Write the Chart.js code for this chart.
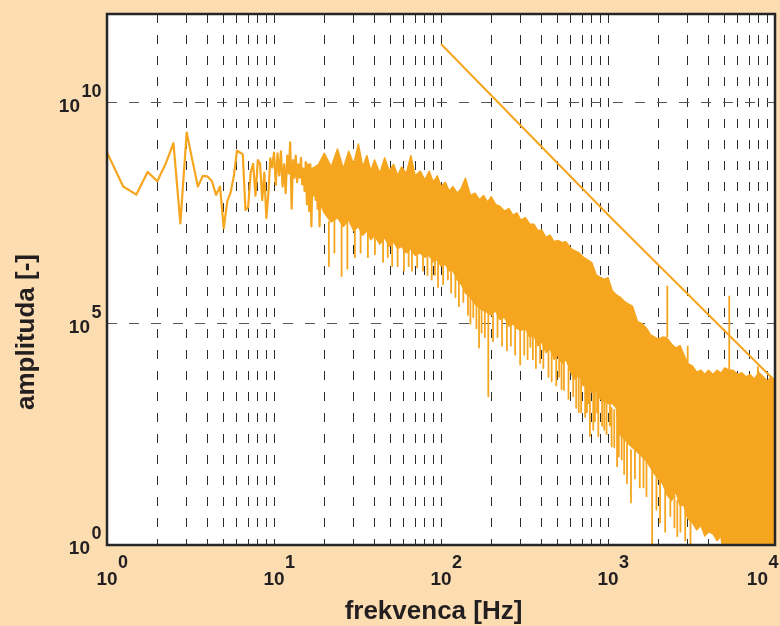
<!DOCTYPE html>
<html>
<head>
<meta charset="utf-8">
<title>Spekter</title>
<script src="https://cdn.jsdelivr.net/npm/chart.js@4/dist/chart.umd.min.js"></script>
<style>
  html, body { margin: 0; padding: 0; background: #fcddb2; }
  canvas { display: block; }
</style>
</head>
<body>
<canvas id="spectrum" width="780" height="626"></canvas>
<script>
// low frequency part of the spectrum, single visible points
const lowFreq = [1, 1.25, 1.5, 1.75, 2, 2.25, 2.5, 2.75, 3, 3.25, 3.5, 3.75, 4, 4.25, 4.5, 4.75, 5, 5.25, 5.5, 5.75,
  6, 6.25, 6.5, 6.75, 7, 7.25, 7.5, 7.75, 8, 8.25, 8.5, 8.75, 9, 9.25, 9.5, 9.75, 10,
  10.25, 10.5, 10.75, 11, 11.25, 11.5, 11.75, 12, 12.25, 12.5, 12.75, 13, 13.25, 13.5, 13.75, 14, 14.25, 14.5, 14.75,
  15, 15.25, 15.5, 15.75, 16, 16.25, 16.5, 16.75, 17, 17.25, 17.5, 17.75, 18, 18.25, 18.5, 18.75, 19, 19.25, 19.5, 19.75, 20];
const lowAmp = [7.4e8, 1.26e8, 8.3e7, 2.7e8, 1.66e8, 4.2e8, 1.2e9, 1.86e7, 2.1e9, 4.8e8, 1.26e8, 2.2e8, 2.14e8, 1.66e8, 8.1e7, 1.26e8, 1.45e7, 5.8e7, 9.3e7, 2.2e8,
  8.1e8, 7.4e8, 6.8e8, 3.7e7, 4.3e7, 2.6e8, 4.1e8, 7.8e7, 5.0e8, 4.2e8, 6.2e7, 2.6e8, 2.45e7, 8.5e7, 5.5e8, 3.4e8, 7.4e8,
  1.38e8, 7.1e8, 2.24e8, 7.9e8, 1.26e8, 4.0e8, 8.9e7, 6.3e8, 2.5e8, 1.26e9, 4.0e7, 5.0e8, 2.0e8, 6.3e8, 1.58e8, 4.0e8, 2.0e8, 5.6e8, 1.41e8,
  3.2e8, 1.0e8, 4.5e8, 5.0e7, 4.0e8, 3.5e7, 4.0e8, 1.58e7, 3.2e8, 7.9e7, 2.8e8, 6.3e7, 3.2e8, 4.0e7, 2.0e8, 1.58e7, 2.5e8, 7.9e7, 2.0e8, 5.0e7, 5.6e8];

// dense part: upper and lower edge of the band
const bandFreq = [17, 18.5, 20, 22, 24, 26, 28, 30, 32, 34, 36, 38, 40, 43, 46, 49, 52, 55, 58,
  62, 66, 70, 75, 80, 85, 90, 95, 100, 106, 112, 118, 125, 132, 140, 150, 160, 170, 180, 190, 200,
  212, 225, 240, 255, 270, 285, 300, 320, 340, 360, 380, 400, 425, 450, 475, 500, 530, 560, 600,
  630, 670, 710, 750, 800, 850, 900, 950, 1000, 1060, 1120, 1180, 1250, 1320, 1400, 1500, 1600, 1700, 1800, 1900, 2000,
  2120, 2250, 2400, 2550, 2700, 2850, 3000, 3200, 3400, 3600, 3800, 4000, 4250, 4500, 4750, 5000, 5300, 5600, 6000,
  6300, 6700, 7100, 7500, 8000, 8500, 9000, 9500, 10000];
const bandTop = [3.2e8, 4.0e8, 7.1e8, 3.5e8, 8.9e8, 3.2e8, 7.9e8, 4.0e8, 1.15e9, 3.5e8, 6.3e8, 2.8e8, 5.0e8, 2.5e8, 5.6e8, 2.8e8, 4.0e8, 2.2e8, 3.5e8,
  2.5e8, 6.3e8, 2.2e8, 2.8e8, 1.78e8, 2.8e8, 1.58e8, 2.2e8, 1.26e8, 1.58e8, 1.0e8, 1.26e8, 8.9e7, 1.12e8, 1.95e8, 7.9e7, 8.9e7, 6.3e7, 7.9e7, 5.6e7, 7.4e7,
  5.0e7, 4.5e7, 3.5e7, 4.0e7, 2.8e7, 3.2e7, 2.2e7, 2.5e7, 1.78e7, 1.78e7, 1.26e7, 1.32e7, 8.9e6, 1.0e7, 7.1e6, 7.6e6, 6.9e6, 7.1e6, 5.0e6,
  4.5e6, 4.0e6, 3.2e6, 2.8e6, 2.4e6, 1.26e6, 1.12e6, 1.0e6, 1.1e6, 5.6e5, 4.5e5, 4.0e5, 3.2e5, 2.8e5, 2.5e5, 1.12e5, 1.0e5, 7.9e4, 5.6e4, 5.0e4, 4.5e4,
  5.0e4, 4.8e4, 3.5e4, 2.8e4, 3.2e4, 2.0e4, 1.26e4, 1.12e4, 7.9e3, 8.9e3, 7.1e3, 8.9e3, 7.1e3, 8.9e3, 7.6e3, 1.0e4, 8.9e3, 8.9e3, 7.1e3,
  7.9e3, 6.3e3, 7.1e3, 5.6e3, 7.9e3, 6.3e3, 5.0e3, 6.3e3, 5.0e3];
const bandBottom = [1.58e8, 6.3e7, 3.2e7, 2.0e7, 2.5e7, 1.58e7, 2.24e7, 1.26e7, 1.58e7, 1.0e7, 1.26e7, 7.9e6, 1.0e7, 6.3e6, 8.9e6, 5.6e6, 7.1e6, 5.0e6, 5.6e6,
  4.0e6, 5.0e6, 3.5e6, 4.0e6, 3.2e6, 3.5e6, 2.5e6, 2.8e6, 2.0e6, 2.24e6, 1.58e6, 1.58e6, 1.0e6, 7.9e5, 5.0e5, 4.0e5, 2.8e5, 2.24e5, 2.0e5, 1.78e5, 1.58e5,
  2.0e5, 1.26e5, 1.41e5, 8.9e4, 1.0e5, 7.9e4, 7.1e4, 7.9e4, 5.0e4, 5.6e4, 3.2e4, 4.0e4, 2.24e4, 2.8e4, 1.58e4, 2.0e4, 1.26e4, 1.58e4, 7.9e3,
  5.6e3, 7.1e3, 4.0e3, 4.5e3, 2.8e3, 3.2e3, 2.0e3, 1.78e3, 1.58e3, 1.6e3, 1.26e3, 320, 250, 200, 160, 126, 100, 79, 56, 40, 32,
  25, 14, 10, 16, 7.9, 7.9, 4.0, 3.2, 2.2, 2.8, 1.6, 2.0, 1.8, 1.26, 1.6, 0.3, 0.3, 0.3, 0.3,
  0.3, 0.3, 0.3, 0.3, 0.3, 0.3, 0.3, 0.3, 0.3];

// single dips below the band
const dipFreq = [21.3, 23, 25.4, 27.5, 30.5, 33, 36.5, 40.2, 45, 48, 51, 55, 60, 64, 67, 72, 78, 83, 88, 92, 96,
  103, 110, 115, 122, 128, 136, 145, 150, 156, 163, 169, 175, 183, 192, 205, 218, 232, 248, 262, 278,
  298, 315, 330, 343, 355, 370, 392, 410, 440, 460, 490, 510, 527, 545, 580, 619, 645, 668, 690, 730, 748, 760, 779,
  816, 835, 860, 875, 922, 950, 980, 1025, 1051, 1090, 1133, 1160, 1207, 1250, 1300, 1373, 1450, 1550, 1631, 1700,
  1838, 1950, 2050, 2200, 2362, 2500, 2600, 2716, 2900, 3120];
const dipFrom = [2.0e7, 2.2e7, 2.0e7, 2.0e7, 1.26e7, 1.26e7, 1.12e7, 1.0e7, 7.9e6, 6.3e6, 6.3e6, 5.0e6, 5.0e6, 4.5e6, 5.0e6, 3.5e6, 3.5e6, 3.2e6, 2.8e6, 2.5e6, 2.5e6,
  2.0e6, 1.78e6, 1.58e6, 1.26e6, 1.0e6, 6.3e5, 4.5e5, 4.0e5, 3.2e5, 2.8e5, 2.2e5, 2.1e5, 2.0e5, 1.78e5, 1.58e5, 1.58e5, 1.32e5, 1.12e5, 9.5e4, 8.9e4,
  7.1e4, 7.6e4, 6.3e4, 5.0e4, 5.4e4, 4.0e4, 3.5e4, 3.5e4, 2.5e4, 2.5e4, 1.78e4, 1.78e4, 1.26e4, 1.41e4, 1.0e4, 7.1e3, 6.3e3, 7.1e3, 5.0e3, 4.2e3, 4.5e3, 4.0e3, 3.2e3,
  2.8e3, 3.0e3, 2.8e3, 2.8e3, 2.0e3, 1.78e3, 1.66e3, 1.58e3, 1.26e3, 1.12e3, 1.0e3, 500, 320, 250, 200, 140, 140, 112, 100, 79,
  56, 35, 28, 16, 10, 12.6, 10, 8, 6.3, 3.5];
const dipTo = [2.0e6, 4.0e6, 1.2e6, 1.74e6, 3.2e6, 4.0e6, 3.2e6, 3.7e6, 2.5e6, 3.2e6, 2.0e6, 2.0e6, 1.58e6, 2.0e6, 1.58e6, 1.86e6, 1.58e6, 1.26e6, 1.0e6, 1.26e6, 6.8e5,
  7.9e5, 1.0e6, 5.0e5, 4.0e5, 2.5e5, 3.1e5, 1.58e5, 1.0e5, 1.41e5, 7.9e4, 2.9e4, 6.3e4, 5.0e4, 2.3e3, 4.0e4, 5.0e4, 3.2e4, 2.5e4, 3.2e4, 2.0e4,
  1.2e4, 2.0e4, 1.58e4, 3.0e4, 1.58e4, 1.0e4, 1.3e4, 1.0e4, 6.3e3, 5.0e3, 4.0e3, 6.3e3, 3.3e3, 3.2e3, 2.0e3, 2.3e3, 1.26e3, 1.0e3, 1.0e3, 790, 1.0e3, 1.58e3, 290,
  400, 630, 1.0e3, 290, 490, 400, 320, 500, 170, 160, 60, 100, 85, 40, 25, 9.1, 32, 20, 20, 12.6,
  0.3, 6.3, 3.2, 2.0, 4.5, 2.5, 1.58, 2, 1.26, 0.3];

// narrow peaks above the band
const peakFreq = [2265, 3000, 5323, 7900];
const peakFrom = [5.0e4, 1.26e4, 8.9e3, 7.1e3];
const peakTo = [7.2e5, 3.2e4, 4.3e5, 1.1e4];

// straight reference line
const lineFreq = [100, 1000, 10000];
const lineAmp = [2.1e11, 2.9e7, 5.1e3];

// axis labels (powers of ten)
const xTickExp = [0, 1, 2, 3, 4];
const yTickExp = [0, 5, 10];

const orange = "#f6a51f";
const ink = "#231f20";

const xy = (xs, ys) => xs.map((x, i) => ({ x: x, y: ys[i] }));

function segments(xs, from, to) {
  const pts = [];
  xs.forEach((x, i) => {
    pts.push({ x: x, y: from[i] }, { x: x, y: to[i] }, { x: x, y: null });
  });
  return pts;
}

// grid lines at 1..9 of every decade
const xGrid = [];
for (let e = 0; e < 4; e++) {
  for (let m = 1; m <= 9; m++) xGrid.push(m * 10 ** e);
}
xGrid.push(1e4);
const yGrid = yTickExp.map(e => 10 ** e);

const paper = {
  id: "paper",
  beforeDraw(chart) {
    const { ctx, chartArea: a } = chart;
    ctx.save();
    ctx.fillStyle = "#fcddb2";
    ctx.fillRect(0, 0, chart.width, chart.height);
    ctx.fillStyle = "#ffffff";
    ctx.fillRect(a.left, a.top, a.right - a.left, a.bottom - a.top);
    ctx.restore();
  },
  afterDraw(chart) {
    const { ctx, chartArea: a, scales } = chart;
    ctx.save();
    // frame
    ctx.strokeStyle = "#262626";
    ctx.lineWidth = 2.5;
    ctx.strokeRect(a.left, a.top, a.right - a.left, a.bottom - a.top);

    ctx.fillStyle = ink;
    ctx.textBaseline = "alphabetic";
    ctx.textAlign = "left";
    const baseFont = 'bold 19px "Liberation Sans", Arial, sans-serif';
    const expFont = 'bold 18px "Liberation Sans", Arial, sans-serif';

    // x tick labels
    xTickExp.forEach(e => {
      const px = scales.x.getPixelForValue(10 ** e);
      ctx.font = expFont;
      const ew = ctx.measureText(String(e)).width;
      ctx.font = baseFont;
      const bw = ctx.measureText("10").width;
      let left = px - bw / 2;
      if (left + bw + ew > 778) left = 778 - bw - ew;
      ctx.fillText("10", left, 585);
      ctx.font = expFont;
      ctx.fillText(String(e), left + bw + 0.5, 568);
    });

    // y tick labels
    yTickExp.forEach(e => {
      const py = scales.y.getPixelForValue(10 ** e);
      ctx.font = expFont;
      const ew = ctx.measureText(String(e)).width;
      const expLeft = 101.5 - ew;
      ctx.fillText(String(e), expLeft, py - 6);
      ctx.font = baseFont;
      const bw = ctx.measureText("10").width;
      ctx.fillText("10", expLeft - 1.5 - bw, py + 9);
    });

    // axis titles
    ctx.font = 'bold 26px "Liberation Sans", Arial, sans-serif';
    ctx.textAlign = "center";
    ctx.fillText("frekvenca [Hz]", 433.5, 619);
    ctx.translate(34, 410);
    ctx.rotate(-Math.PI / 2);
    ctx.textAlign = "left";
    ctx.fillText("amplituda [-]", 0, 0);
    ctx.restore();
  }
};

new Chart(document.getElementById("spectrum"), {
  type: "line",
  data: {
    datasets: [
      {
        label: "trend",
        data: xy(lineFreq, lineAmp),
        borderColor: orange,
        borderWidth: 2,
        fill: false
      }, {
        label: "low",
        data: xy(lowFreq, lowAmp),
        borderColor: orange,
        borderWidth: 2.2,
        fill: false
      }, {
        label: "spikes",
        data: segments(dipFreq.concat(peakFreq), dipFrom.concat(peakFrom), dipTo.concat(peakTo)),
        borderColor: orange,
        borderWidth: 1.8,
        spanGaps: false,
        fill: false
      }, {
        label: "band top",
        data: xy(bandFreq, bandTop),
        borderColor: orange,
        backgroundColor: orange,
        borderWidth: 1.5,
        fill: "+1"
      }, {
        label: "band bottom",
        data: xy(bandFreq, bandBottom),
        borderColor: orange,
        borderWidth: 1.5,
        fill: false
      }
    ]
  },
  options: {
    responsive: false,
    animation: false,
    devicePixelRatio: 1,
    layout: { padding: { top: 14, right: 5, left: 0, bottom: 0 } },
    elements: {
      point: { radius: 0 },
      line: { tension: 0, borderJoinStyle: "round" }
    },
    plugins: {
      legend: { display: false },
      tooltip: { enabled: false }
    },
    scales: {
      x: {
        type: "logarithmic",
        min: 1,
        max: 1e4,
        afterBuildTicks: s => { s.ticks = xGrid.map(v => ({ value: v })); },
        afterFit: s => { s.height = 81; },
        ticks: { display: false },
        grid: { color: "#2b2b2b", lineWidth: 1, drawTicks: false },
        border: { display: false, dash: [9, 12] }
      },
      y: {
        type: "logarithmic",
        min: 1,
        max: 1e12,
        afterBuildTicks: s => { s.ticks = yGrid.map(v => ({ value: v })); },
        afterFit: s => { s.width = 107; },
        ticks: { display: false },
        grid: { color: "#555555", lineWidth: 1, drawTicks: false },
        border: { display: false, dash: [10, 12] }
      }
    }
  },
  plugins: [paper]
});
</script>
</body>
</html>
